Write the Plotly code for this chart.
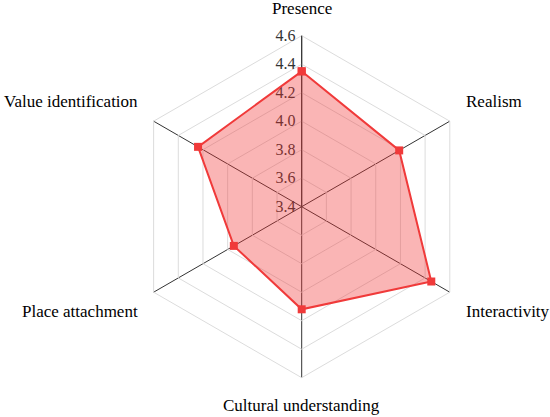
import math
import plotly.graph_objects as go

categories = ["Presence", "Realism", "Interactivity", "Cultural understanding",
              "Place attachment", "Value identification"]
scores = [4.35, 4.19, 4.45, 4.12, 3.95, 4.24]
radial_ticks = [3.4, 3.6, 3.8, 4.0, 4.2, 4.4, 4.6]

theta = categories + categories[:1]
r = scores + scores[:1]

fig = go.Figure()
fig.add_trace(go.Scatterpolar(
    r=r, theta=theta, mode="lines+markers", fill="toself",
    fillcolor="rgba(240,50,50,0.36)",
    line=dict(color="#f03a3a", width=2),
    marker=dict(symbol="square", size=8, color="#f03a3a"),
    showlegend=False, hoverinfo="skip",
))

W, H = 550, 417
cx, cy, R = 301.7, 206.7, 171
label_gap = 16

# category labels placed just outside each polygon vertex
annotations = []
n = len(categories)
for i, cat in enumerate(categories):
    a = math.radians(90 - 360 * i / n)
    ca, sa = math.cos(a), math.sin(a)
    px = cx + (R + label_gap) * ca
    py = cy - (R + label_gap) * sa
    xanchor = "center" if abs(ca) < 1e-6 else ("left" if ca > 0 else "right")
    yanchor = "bottom" if sa > 1e-6 else "top"
    annotations.append(dict(
        text=cat, x=px / W, y=1 - py / H, xref="paper", yref="paper",
        xanchor=xanchor, yanchor=yanchor, showarrow=False,
        font=dict(size=17, color="black"),
    ))

fig.update_layout(
    width=W, height=H,
    margin=dict(l=0, r=0, t=0, b=0),
    paper_bgcolor="white",
    font=dict(family="Liberation Serif, Times New Roman, serif", size=16, color="black"),
    annotations=annotations,
    polar=dict(
        domain=dict(x=[(cx - R) / W, (cx + R) / W], y=[(H - cy - R) / H, (H - cy + R) / H]),
        bgcolor="white",
        gridshape="linear",
        radialaxis=dict(
            range=[3.4, 4.6], tickvals=radial_ticks,
            ticktext=[f"{v:.1f}" for v in radial_ticks],
            angle=90, tickangle=90, side="counterclockwise",
            showline=True, linecolor="#333", linewidth=1,
            gridcolor="#dcdcdc", gridwidth=1,
            ticks="", tickfont=dict(size=16, color="#333"),
            layer="below traces",
        ),
        angularaxis=dict(
            direction="clockwise", rotation=90,
            showticklabels=False, ticks="",
            showline=True, linecolor="#dcdcdc", linewidth=1,
            gridcolor="#333", gridwidth=1,
            layer="below traces",
        ),
    ),
)
fig.write_html("out.html", config={"displayModeBar": False},
               post_script="document.body.style.margin='0';")
